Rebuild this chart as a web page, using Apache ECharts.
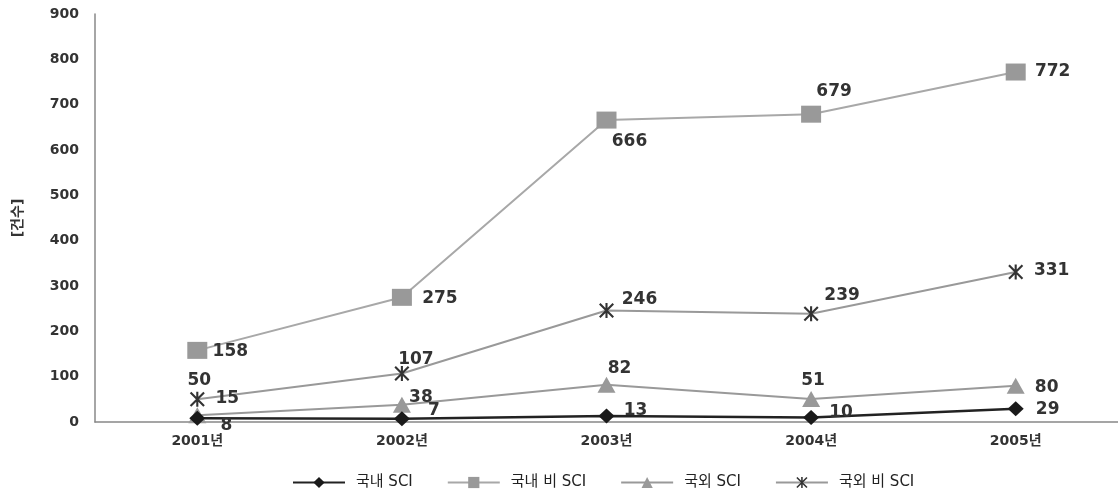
<!DOCTYPE html>
<html>
<head>
<meta charset="utf-8">
<script src="https://cdn.jsdelivr.net/npm/echarts@6/dist/echarts.min.js"></script>
<style>
  html, body { margin: 0; padding: 0; background: #fff; }
  #chart { width: 1118px; height: 498px; }
</style>
</head>
<body>
<div id="chart"></div>
<script>
const years = ['2001년', '2002년', '2003년', '2004년', '2005년']
const yTicks = [0, 100, 200, 300, 400, 500, 600, 700, 800, 900]
const domesticSci = [8, 7, 13, 10, 29]
const domesticNonSci = [158, 275, 666, 679, 772]
const foreignSci = [15, 38, 82, 51, 80]
const foreignNonSci = [50, 107, 246, 239, 331]

// label offsets from the marker centre (px), per point
const offDomesticSci = [[29, 7], [32, -8], [29, -6], [30, -5], [32, 1]]
const offDomesticNonSci = [[33, 1], [38, 1], [23, 21], [23, -23], [37, 0]]
const offForeignSci = [[30, -17], [19, -7], [13, -16], [2, -18], [31, 2]]
const offForeignNonSci = [[2, -19], [14, -14], [33, -11], [31, -18], [36, -1]]

const font = '"DejaVu Sans", "Noto Sans CJK KR", sans-serif'
const starPath = 'path://M0,1L1,0L10,9L9,10Z M9,0L10,1L1,10L0,9Z M4.3,0L5.7,0L5.7,10L4.3,10Z'

function withLabels(values, offsets) {
  return values.map((v, i) => ({
    value: v,
    label: { position: 'inside', offset: offsets[i] }
  }))
}

const labelStyle = {
  show: true,
  fontSize: 17,
  fontWeight: 'bold',
  color: '#333',
  fontFamily: font
}

const chart = echarts.init(document.getElementById('chart'))
const option = {
  animation: false,
  textStyle: { fontFamily: font },
  grid: { left: 95, top: 14, width: 1028, height: 408 },
  legend: {
    bottom: 3,
    left: 287,
    itemWidth: 52,
    itemHeight: 14,
    itemGap: 34,
    textStyle: { fontSize: 15, color: '#222', fontFamily: font, padding: [0, 0, 0, 6] },
    data: ['국내 SCI', '국내 비 SCI', '국외 SCI', '국외 비 SCI']
  },
  xAxis: {
    type: 'category',
    data: years,
    boundaryGap: true,
    axisLine: { lineStyle: { color: '#888', width: 1.5 } },
    axisTick: { show: false },
    axisLabel: { color: '#333', fontSize: 14, fontWeight: 'bold', margin: 12 }
  },
  yAxis: {
    type: 'value',
    min: 0,
    max: 900,
    interval: 100,
    name: '[건수]',
    nameLocation: 'middle',
    nameRotate: 90,
    nameGap: 70,
    nameTextStyle: { fontSize: 14, color: '#333', fontWeight: 'bold' },
    axisLine: { show: true, lineStyle: { color: '#888', width: 1.5 } },
    axisTick: { show: false },
    splitLine: { show: false },
    axisLabel: {
      color: '#333',
      fontSize: 14,
      fontWeight: 'bold',
      margin: 16,
      formatter: v => (yTicks.includes(v) ? String(v) : '')
    }
  },
  series: [
    {
      name: '국내 비 SCI',
      type: 'line',
      data: withLabels(domesticNonSci, offDomesticNonSci),
      symbol: 'rect',
      symbolSize: [20, 17],
      itemStyle: { color: '#999' },
      lineStyle: { color: '#a8a8a8', width: 2 },
      label: labelStyle
    },
    {
      name: '국외 비 SCI',
      type: 'line',
      data: withLabels(foreignNonSci, offForeignNonSci),
      symbol: starPath,
      symbolSize: 15,
      itemStyle: { color: '#333' },
      lineStyle: { color: '#999', width: 2 },
      label: labelStyle
    },
    {
      name: '국외 SCI',
      type: 'line',
      data: withLabels(foreignSci, offForeignSci),
      symbol: 'triangle',
      symbolSize: [18, 16],
      itemStyle: { color: '#999' },
      lineStyle: { color: '#999', width: 2 },
      label: labelStyle
    },
    {
      name: '국내 SCI',
      type: 'line',
      data: withLabels(domesticSci, offDomesticSci),
      symbol: 'diamond',
      symbolSize: [16, 15],
      itemStyle: { color: '#1a1a1a' },
      lineStyle: { color: '#222', width: 2.5 },
      label: labelStyle
    }
  ]
}
chart.setOption(option)
</script>
</body>
</html>
